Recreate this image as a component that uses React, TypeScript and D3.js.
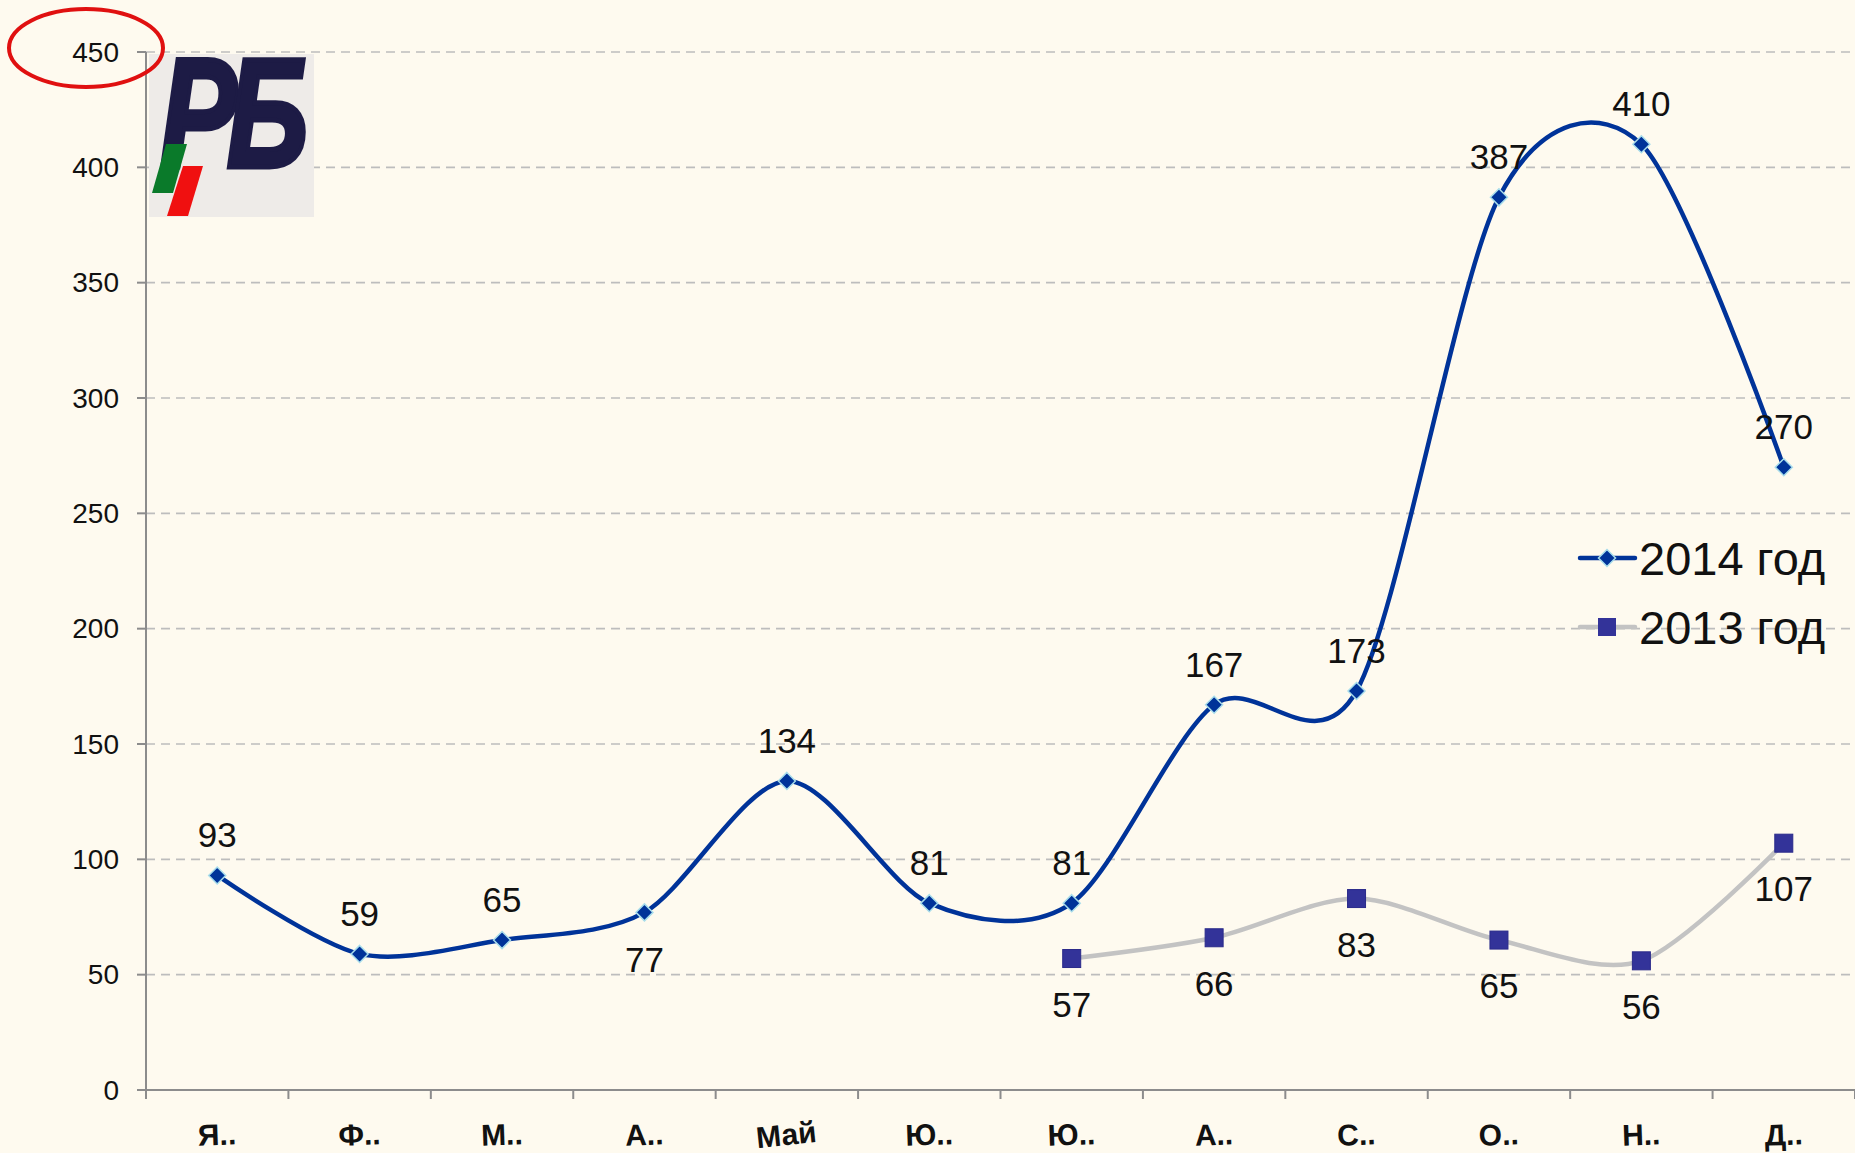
import React from "react";
import * as d3 from "d3";

const months = ["Я..", "Ф..", "М..", "А..", "Май", "Ю..", "Ю..", "А..", "С..", "О..", "Н..", "Д.."];
const series2014 = [93, 59, 65, 77, 134, 81, 81, 167, 173, 387, 410, 270];
const series2013: (number | null)[] = [null, null, null, null, null, null, 57, 66, 83, 65, 56, 107];
const labelPos2014 = ["above", "above", "above", "below", "above", "above", "above", "above", "above", "above", "above", "above"];
const yTicks = [0, 50, 100, 150, 200, 250, 300, 350, 400, 450];
const legendNames = ["2014 год", "2013 год"];

const W = 1855;
const H = 1153;
const left = 146;
const right = 1855;
const top = 52;
const bottom = 1090;

export default function App() {
  const x = d3.scaleBand<number>().domain(d3.range(12)).range([left, right]);
  const cx = (i: number) => (x(i) as number) + x.bandwidth() / 2;
  const y = d3.scaleLinear().domain([0, 450]).range([bottom, top]);

  const line = d3
    .line<[number, number]>()
    .x((d) => cx(d[0]))
    .y((d) => y(d[1]))
    .curve(d3.curveCardinal.tension(0.12));

  const pts14: [number, number][] = series2014.map((v, i) => [i, v]);
  const pts13: [number, number][] = series2013
    .map((v, i) => [i, v] as [number, number | null])
    .filter((d) => d[1] !== null) as [number, number][];

  const font = "'Liberation Sans', Arial, sans-serif";
  const diamond = (px: number, py: number, r: number) =>
    `M${px},${py - r}L${px + r},${py}L${px},${py + r}L${px - r},${py}Z`;

  return (
    <svg width={W} height={H} style={{ position: "absolute", left: 0, top: 0 }}>
      <rect x={0} y={0} width={W} height={H} fill="#FEFAEF" />
      {/* gridlines */}
      {yTicks.filter((t) => t > 0).map((t) => (
        <line key={t} x1={left} x2={right} y1={y(t)} y2={y(t)} stroke="#BDBDBD" strokeWidth={1.6} strokeDasharray="9,6" />
      ))}
      {/* y axis */}
      <line x1={left} x2={left} y1={top} y2={bottom} stroke="#8C8C8C" strokeWidth={2} />
      {yTicks.map((t) => (
        <g key={t}>
          <line x1={left - 9} x2={left} y1={y(t)} y2={y(t)} stroke="#8C8C8C" strokeWidth={2} />
          <text x={119} y={y(t) + 9.5} textAnchor="end" fontFamily={font} fontSize={28} fill="#111">
            {t}
          </text>
        </g>
      ))}
      {/* x axis */}
      <line x1={left} x2={right} y1={bottom} y2={bottom} stroke="#8C8C8C" strokeWidth={2} />
      {d3.range(13).map((i) => {
        const px = i < 12 ? (x(i) as number) : right;
        return <line key={i} x1={px} x2={px} y1={bottom} y2={bottom + 9} stroke="#8C8C8C" strokeWidth={2} />;
      })}
      {months.map((m, i) => (
        <text
          key={i}
          x={cx(i)}
          y={1145}
          textAnchor="middle"
          fontFamily="'Liberation Sans Narrow', 'Arial Narrow', 'Liberation Sans', sans-serif"
          fontWeight="bold"
          fontSize={30}
          fill="#111"
          transform={i === 4 ? `rotate(-6 ${cx(i)} 1140)` : `rotate(-2 ${cx(i)} 1140)`}
        >
          {m}
        </text>
      ))}

      {/* 2013 */}
      <path d={line(pts13) || ""} fill="none" stroke="#C3C3C3" strokeWidth={4.5} />
      {/* 2014 */}
      <path d={line(pts14) || ""} fill="none" stroke="#003399" strokeWidth={4.5} />

      {pts13.map(([i, v]) => (
        <rect key={i} x={cx(i) - 9} y={y(v) - 9} width={18} height={18} fill="#333399" stroke="#2A2A8A" strokeWidth={1} />
      ))}
      {pts14.map(([i, v]) => (
        <path key={i} d={diamond(cx(i), y(v), 8.5)} fill="#003399" stroke="#A8DDEB" strokeWidth={1.5} />
      ))}

      {/* data labels */}
      {pts14.map(([i, v]) => (
        <text
          key={i}
          x={cx(i)}
          y={labelPos2014[i] === "above" ? y(v) - 28 : y(v) + 60}
          textAnchor="middle"
          fontFamily={font}
          fontSize={35}
          fill="#111"
        >
          {v}
        </text>
      ))}
      {pts13.map(([i, v]) => (
        <text key={i} x={cx(i)} y={y(v) + 58} textAnchor="middle" fontFamily={font} fontSize={35} fill="#111">
          {v}
        </text>
      ))}

      {/* legend */}
      <g>
        <line x1={1580} x2={1635} y1={558} y2={558} stroke="#003399" strokeWidth={4.5} strokeLinecap="round" />
        <path d={diamond(1607, 558, 8.5)} fill="#003399" stroke="#A8DDEB" strokeWidth={1.5} />
        <text x={1639} y={575} fontFamily={font} fontSize={47} fill="#111">
          {legendNames[0]}
        </text>
        <line x1={1580} x2={1635} y1={627} y2={627} stroke="#C3C3C3" strokeWidth={4.5} strokeLinecap="round" />
        <rect x={1598} y={618} width={18} height={18} fill="#333399" />
        <text x={1639} y={644} fontFamily={font} fontSize={47} fill="#111">
          {legendNames[1]}
        </text>
      </g>

      {/* logo */}
      <g>
        <rect x={149} y={54} width={165} height={163} fill="#EEEBE8" />
        <g transform="translate(160,167) scale(0.74,1)">
          <text
            x={0}
            y={0}
            fontFamily="'Liberation Sans', Arial, sans-serif"
            fontWeight="bold"
            fontStyle="italic"
            fontSize={156}
            letterSpacing={-14}
            fill="#1D1B45"
            stroke="#1D1B45"
            strokeWidth={5}
          >
            РБ
          </text>
        </g>
        <path d="M166,144 L187,144 L173,193 L152,193 Z" fill="#0A7A2A" />
        <path d="M183,166 L203,166 L188,216 L167,216 Z" fill="#F01010" />
      </g>

      {/* red ellipse highlight */}
      <ellipse cx={86} cy={48} rx={77} ry={39} fill="none" stroke="#E01010" strokeWidth={4} />
    </svg>
  );
}
